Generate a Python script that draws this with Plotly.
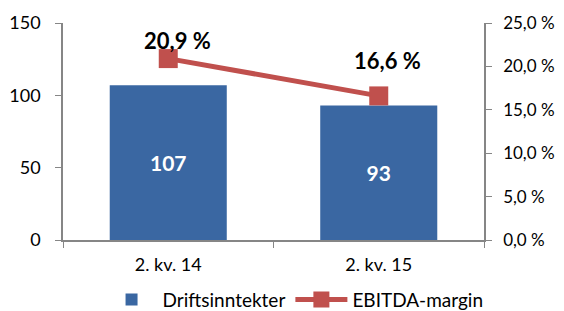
import plotly.graph_objects as go

categories = ["2. kv. 14", "2. kv. 15"]
revenue = [107, 93]
revenue_labels = ["107", "93"]
ebitda_margin = [20.9, 16.6]
margin_labels = ["20,9 %", "16,6 %"]
left_ticks = [0, 50, 100, 150]
right_ticks = [0, 5, 10, 15, 20, 25]
right_tick_labels = ["0,0 %", "5,0 %", "10,0 %", "15,0 %", "20,0 %", "25,0 %"]

# label placement offsets (pixels) for the margin labels (style only)
label_dx = [9, 9]
label_dy = [18, 35]

FONT = "Lato"
AXIS_COLOR = "#868686"
TICK_SIZE = 18

fig = go.Figure()
fig.add_trace(go.Bar(
    x=categories, y=revenue, name="Driftsinntekter",
    marker=dict(color="#3A67A2", line=dict(width=0)),
    width=0.556,
    text=revenue_labels, textposition="inside", insidetextanchor="middle",
    textfont=dict(family=FONT, size=21, color="white", weight="bold"),
    yaxis="y",
))
fig.add_trace(go.Scatter(
    x=categories, y=ebitda_margin, name="EBITDA-margin",
    mode="lines+markers",
    line=dict(color="#C0504D", width=5),
    marker=dict(symbol="square", size=19, color="#C0504D"),
    yaxis="y2", cliponaxis=False,
))

for cat, val, lab, dx, dy in zip(categories, ebitda_margin, margin_labels, label_dx, label_dy):
    fig.add_annotation(
        x=cat, y=val, xref="x", yref="y2", text=lab, showarrow=False,
        xshift=dx, yshift=dy, xanchor="center", yanchor="middle",
        font=dict(family=FONT, size=22, color="black", weight="bold"),
    )

fig.update_layout(
    width=556, height=303,
    margin=dict(l=55, r=80, t=15, b=71, autoexpand=False),
    paper_bgcolor="white", plot_bgcolor="white",
    font=dict(family=FONT, size=TICK_SIZE, color="black"),
    bargap=0.444,
    showlegend=True,
    legend=dict(orientation="h", x=0.55, xanchor="center", y=-0.275, yanchor="middle",
                font=dict(family=FONT, size=19), itemwidth=52, tracegroupgap=0),
    xaxis=dict(
        type="category", showline=True, linecolor=AXIS_COLOR, linewidth=1.5,
        ticks="outside", tickson="boundaries", ticklen=6, tickcolor=AXIS_COLOR,
        showgrid=False, tickfont=dict(family=FONT, size=TICK_SIZE),
        automargin=False, ticklabelstandoff=8,
    ),
    yaxis=dict(
        range=[0, 150], tickvals=left_ticks, showline=True, linecolor=AXIS_COLOR,
        linewidth=1.5, ticks="outside", ticklen=6, tickcolor=AXIS_COLOR,
        showgrid=False, zeroline=False, tickfont=dict(family=FONT, size=TICK_SIZE),
        automargin=False, ticklabelstandoff=11,
    ),
    yaxis2=dict(
        range=[0, 25], overlaying="y", side="right", tickvals=right_ticks,
        ticktext=right_tick_labels, showline=True, linecolor=AXIS_COLOR,
        linewidth=1.5, ticks="outside", ticklen=6, tickcolor=AXIS_COLOR,
        showgrid=False, zeroline=False, tickfont=dict(family=FONT, size=17),
        automargin=False, ticklabelstandoff=8,
    ),
)

fig.write_html("out.html")
